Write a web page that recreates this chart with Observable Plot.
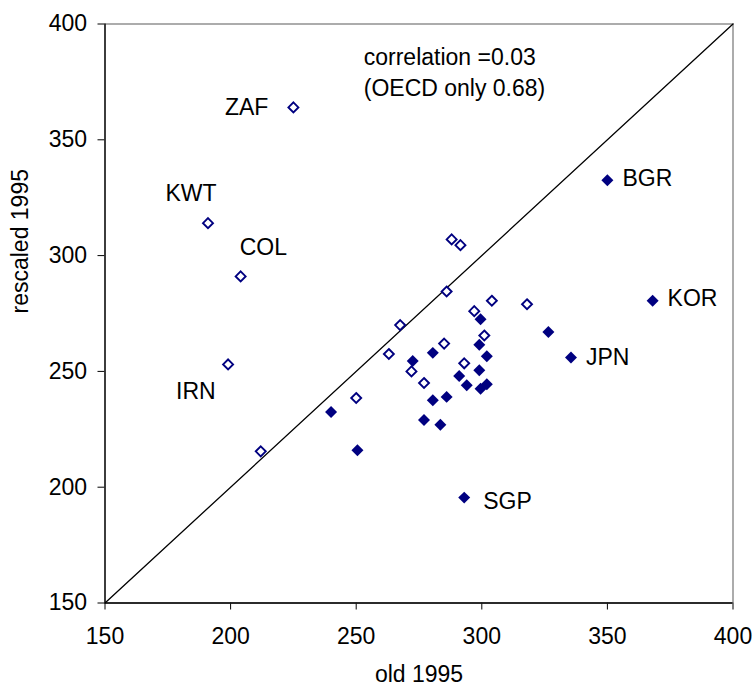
<!DOCTYPE html>
<html>
<head>
<meta charset="utf-8">
<script src="https://cdn.jsdelivr.net/npm/d3@7"></script>
<script src="https://cdn.jsdelivr.net/npm/@observablehq/plot@0.6"></script>
<style>
  html, body { margin: 0; padding: 0; background: #fff; }
  #chart svg { display: block; }
</style>
</head>
<body>
<div id="chart"></div>
<script>
// ---- data ----
const openCodes = ["ZAF", "KWT", "COL", "IRN", null, null, null, null, null, null, null, null, null, null, null, null, null, null, null];
const openOld   = [225, 191, 204, 199, 288, 291.5, 286, 304, 318, 297, 301, 267.5, 285, 263, 293, 272, 277, 250, 212];
const openNew   = [364, 314, 291, 253, 307, 304.5, 284.5, 280.5, 279, 276, 265.5, 270, 262, 257.5, 253.5, 250, 245, 238.5, 215.5];

const filledCodes = ["BGR", "KOR", "JPN", "SGP", null, null, null, null, null, null, null, null, null, null, null, null, null, null, null, null, null];
const filledOld   = [350, 368, 335.5, 293, 326.5, 299.5, 299, 302, 280.5, 272.5, 299, 291, 294, 299.5, 302, 286, 280.5, 240, 277, 283.5, 250.5];
const filledNew   = [332.5, 280.5, 256, 195.5, 267, 272.5, 261.5, 256.5, 258, 254.5, 250.5, 248, 244, 242.5, 244.5, 239, 237.5, 232.5, 229, 227, 216];

const xTicks = [150, 200, 250, 300, 350, 400];
const yTicks = [150, 200, 250, 300, 350, 400];
const diagonal = [150, 400];
const xLabel = "old 1995";
const yLabel = "rescaled 1995";
const noteLines = ["correlation =0.03", "(OECD only 0.68)"];
const noteX = 253;
const noteY = 392;

// ---- tables ----
const openPts = openOld.map((x, i) => ({x, y: openNew[i], code: openCodes[i]}));
const filledPts = filledOld.map((x, i) => ({x, y: filledNew[i], code: filledCodes[i]}));

// label placement (style only)
const labelStyle = {
  ZAF: {textAnchor: "end", dx: -25, dy: 0},
  KWT: {textAnchor: "middle", dx: -17, dy: -30},
  COL: {textAnchor: "start", dx: -1, dy: -29},
  IRN: {textAnchor: "start", dx: -52, dy: 27},
  BGR: {textAnchor: "start", dx: 15, dy: -2},
  KOR: {textAnchor: "start", dx: 15, dy: -2},
  JPN: {textAnchor: "start", dx: 15, dy: 0},
  SGP: {textAnchor: "start", dx: 19, dy: 4}
};
const labelled = [...openPts, ...filledPts].filter(d => d.code);
const labelMarks = labelled.map(d => Plot.text([d], {
  x: "x", y: "y", text: "code",
  textAnchor: labelStyle[d.code].textAnchor,
  dx: labelStyle[d.code].dx, dy: labelStyle[d.code].dy,
  fill: "black"
}));

const navy = "#000080";
const FS = 23;

const chart = Plot.plot({
  width: 755,
  height: 688,
  marginLeft: 104.5,
  marginRight: 22.5,
  marginTop: 23.5,
  marginBottom: 85.5,
  style: {
    fontFamily: "'Liberation Sans', Arial, sans-serif",
    fontSize: FS + "px",
    color: "black",
    background: "white"
  },
  x: {domain: [150, 400], ticks: xTicks, tickSize: 7, tickPadding: 18, label: null},
  y: {domain: [150, 400], ticks: yTicks, tickSize: 7, tickPadding: 11, label: null},
  marks: [
    Plot.frame({stroke: "#808080", strokeWidth: 1.3}),
    Plot.ruleX([150], {stroke: "black", strokeWidth: 1.3}),
    Plot.ruleY([150], {stroke: "black", strokeWidth: 1.3}),
    Plot.line(diagonal, {x: d => d, y: d => d, stroke: "black", strokeWidth: 1.3}),
    Plot.dot(openPts, {x: "x", y: "y", symbol: "diamond2", r: 4.5, stroke: navy, strokeWidth: 1.9, fill: "white"}),
    Plot.dot(filledPts, {x: "x", y: "y", symbol: "diamond2", r: 5.4, fill: navy, stroke: "none"}),
    ...labelMarks,
    Plot.text([noteLines.join("\n")], {x: () => noteX, y: () => noteY, textAnchor: "start", lineAnchor: "top", lineHeight: 1.37, fill: "black"}),
    Plot.text([xLabel], {frameAnchor: "bottom", lineAnchor: "top", dy: 63, fill: "black"}),
    Plot.text([yLabel], {frameAnchor: "left", rotate: -90, lineAnchor: "top", dx: -93.5, fill: "black"})
  ]
});
document.getElementById("chart").appendChild(chart);
</script>
</body>
</html>
